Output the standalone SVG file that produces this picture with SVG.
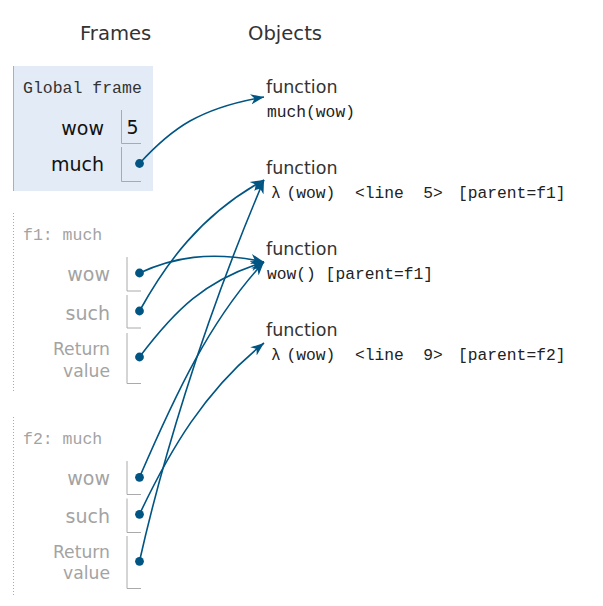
<svg xmlns="http://www.w3.org/2000/svg" width="603" height="606" viewBox="0 0 603 606">
<style>
.hdr{font-family:"DejaVu Sans",Verdana,sans-serif;font-size:19.6px;fill:#333}
.flabel{font-family:"Liberation Mono",monospace;font-size:16.5px;fill:#333}
.flabel.in{fill:#a3a3a3}
.vn{font-family:"DejaVu Sans",Verdana,sans-serif;font-size:19px;fill:#111;text-anchor:end}
.vn.in{fill:#a3a3a3}
.rv{font-family:"DejaVu Sans",Verdana,sans-serif;font-size:17.2px;fill:#a3a3a3;text-anchor:end}
.val{font-family:"DejaVu Sans",Verdana,sans-serif;font-size:19px;fill:#111}
.cell{stroke:#aaa;stroke-width:1;fill:none}
.dot{fill:#005583}
.fn{font-family:"DejaVu Sans",Verdana,sans-serif;font-size:17.5px;fill:#333}
.code{font-family:"Liberation Mono",monospace;font-size:16.3px;fill:#222;white-space:pre}
.conn{fill:none;stroke:#005583;stroke-width:1.6;marker-end:url(#arr)}
</style>
<defs>
<marker id="arr" markerUnits="userSpaceOnUse" viewBox="0 0 14 12" markerWidth="14" markerHeight="12" refX="13.5" refY="6" orient="auto">
<path d="M13.5,6 L0,0.8 L4,6 L0,11.2 Z" fill="#005583"/>
</marker>
</defs>
<rect width="603" height="606" fill="#fff"/>
<text class="hdr" x="80" y="39.5">Frames</text>
<text class="hdr" x="248" y="39.5">Objects</text>

<g id="global-frame">
<rect x="13" y="66" width="140" height="125" fill="#e2ebf6"/>
<line x1="13.5" y1="66" x2="13.5" y2="191" stroke="#a6b3b6" stroke-width="1"/>
<text class="flabel" x="23" y="93">Global frame</text>
<text class="vn" x="104" y="134.5">wow</text>
<path class="cell" d="M121.5,110 V143.5 H141"/>
<text class="val" x="126.5" y="134">5</text>
<text class="vn" x="104" y="171">much</text>
<path class="cell" d="M121.5,147 V181.5 H141"/>
<circle class="dot" cx="139.5" cy="163.5" r="4.4"/>
</g>

<g id="f1-frame">
<line x1="13.5" y1="213" x2="13.5" y2="393" stroke="#aaa" stroke-width="1" stroke-dasharray="1,2"/>
<text class="flabel in" x="23" y="239.5">f1: much</text>
<text class="vn in" x="110" y="281">wow</text>
<path class="cell" d="M127,257 V291 H141"/>
<circle class="dot" cx="139.5" cy="273" r="4.4"/>
<text class="vn in" x="110" y="319.5">such</text>
<path class="cell" d="M127,295 V328 H141"/>
<circle class="dot" cx="139.5" cy="311" r="4.4"/>
<text class="rv" x="110" y="355">Return</text>
<text class="rv" x="110" y="376.5">value</text>
<path class="cell" d="M127,333 V383.5 H141"/>
<circle class="dot" cx="139.5" cy="357" r="4.4"/>
</g>

<g id="f2-frame">
<line x1="13.5" y1="417" x2="13.5" y2="597" stroke="#aaa" stroke-width="1" stroke-dasharray="1,2"/>
<text class="flabel in" x="23" y="443.5">f2: much</text>
<text class="vn in" x="110" y="485">wow</text>
<path class="cell" d="M127,461 V494.5 H141"/>
<circle class="dot" cx="139.5" cy="477.3" r="4.4"/>
<text class="vn in" x="110" y="522.5">such</text>
<path class="cell" d="M127,498.5 V532.5 H141"/>
<circle class="dot" cx="139.5" cy="514.3" r="4.4"/>
<text class="rv" x="110" y="557.5">Return</text>
<text class="rv" x="110" y="578.5">value</text>
<path class="cell" d="M127,536 V588.5 H141"/>
<circle class="dot" cx="139.5" cy="561.3" r="4.4"/>
</g>

<g id="obj-much">
<text class="fn" x="266" y="93">function</text>
<text class="code" x="267" y="117">much(wow)</text>
</g>
<g id="obj-lambda5">
<text class="fn" x="266" y="174">function</text>
<text class="code" y="198"><tspan x="271">λ</tspan><tspan x="286.5">(wow)&#160;&#160;&lt;line&#160;&#160;5&gt;</tspan><tspan x="458">[parent=f1]</tspan></text>
</g>
<g id="obj-wow">
<text class="fn" x="266" y="255">function</text>
<text class="code" x="267" y="279">wow()&#160;[parent=f1]</text>
</g>
<g id="obj-lambda9">
<text class="fn" x="266" y="336">function</text>
<text class="code" y="360"><tspan x="271">λ</tspan><tspan x="286.5">(wow)&#160;&#160;&lt;line&#160;&#160;9&gt;</tspan><tspan x="458">[parent=f2]</tspan></text>
</g>

<g id="connectors">
<path class="conn" d="M139.5,163.5 C172,128 200,108 264,97"/>
<path class="conn" d="M139.5,273 C172,258 210,250 264,262"/>
<path class="conn" d="M139.5,311 C165,265 200,215 264,180"/>
<path class="conn" d="M139.5,357 C175,310 205,280 264,262"/>
<path class="conn" d="M139.5,477.3 C175,395 210,320 264,262"/>
<path class="conn" d="M139.5,514.3 C170,450 205,390 264,343"/>
<path class="conn" d="M139.5,561.3 C160,470 200,330 264,180"/>
</g>
</svg>
